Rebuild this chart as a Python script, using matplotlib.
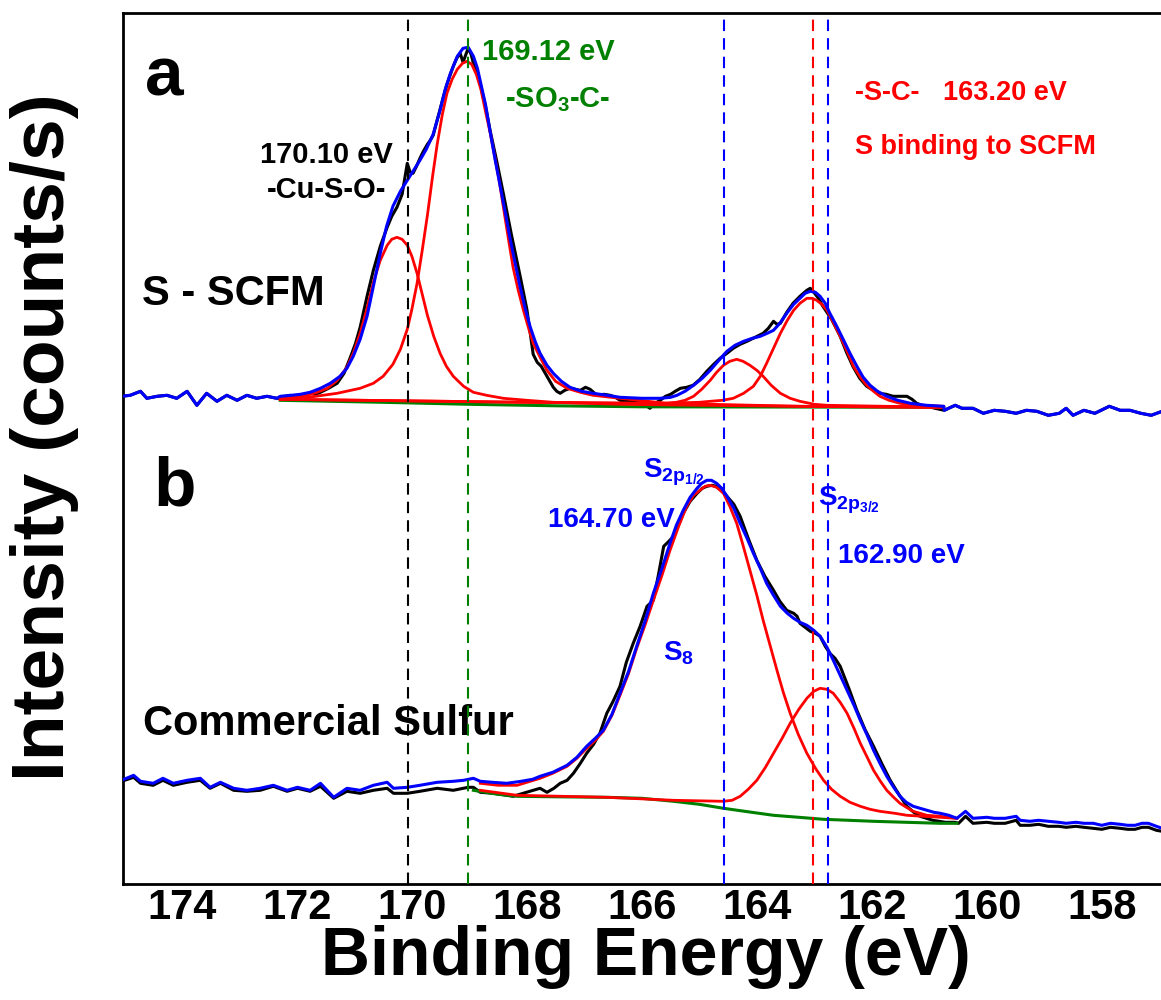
import matplotlib
matplotlib.use("Agg")
import matplotlib.pyplot as plt

plt.rcParams['font.family'] = ['Liberation Sans', 'DejaVu Sans']
plt.rcParams['font.weight'] = 'bold'
plt.rcParams['mathtext.fontset'] = 'custom'
plt.rcParams['mathtext.rm'] = 'Liberation Sans:bold'
plt.rcParams['mathtext.it'] = 'Liberation Sans:bold'
plt.rcParams['mathtext.bf'] = 'Liberation Sans:bold'
plt.rcParams['mathtext.default'] = 'rm'

# ---------------- data (binding energy in eV, intensity in arbitrary units) ----------------
# Panel a : S - SCFM
a_left_E = [175.05, 174.90, 174.72, 174.61, 174.43, 174.26, 174.09, 173.91, 173.74, 173.57,
            173.39, 173.22, 173.04, 172.87, 172.70, 172.52, 172.35]
a_left_I = [488, 489, 493, 486, 488, 489, 486, 493, 479, 491, 483, 489, 484, 489, 486, 488, 486]

a_right_E = [160.74, 160.55, 160.43, 160.24, 160.06, 159.87, 159.68, 159.49, 159.31, 159.13,
             158.93, 158.74, 158.62, 158.50, 158.31, 158.12, 157.87, 157.68, 157.51, 157.32,
             157.14, 156.95]
a_right_I = [474, 479, 476, 476, 471, 474, 473, 471, 474, 473, 469, 471, 476, 469, 474, 471,
             478, 474, 474, 471, 469, 473]

a_raw_E = [172.29, 172.20, 172.12, 172.03, 171.94, 171.85, 171.77, 171.68, 171.59, 171.45,
           171.30, 171.18, 171.07, 170.98, 170.90, 170.78, 170.67, 170.55, 170.43, 170.35,
           170.26, 170.17, 170.08, 170.03, 169.98, 169.92, 169.86, 169.80, 169.73, 169.68,
           169.63, 169.57, 169.51, 169.45, 169.39, 169.33, 169.28, 169.22, 169.16, 169.11,
           169.06, 169.02, 168.97, 168.93, 168.87, 168.81, 168.72, 168.64, 168.52, 168.41,
           168.27, 168.12, 168.00, 167.89, 167.82, 167.75, 167.65, 167.54, 167.48, 167.42,
           167.34, 167.25, 167.16, 167.07, 166.98, 166.90, 166.84, 166.78, 166.66, 166.55,
           166.46, 166.38, 166.20, 166.03, 165.95, 165.86, 165.77, 165.68, 165.59, 165.50,
           165.42, 165.33, 165.22, 165.11, 164.99, 164.87, 164.75, 164.64, 164.52, 164.41,
           164.29, 164.17, 164.03, 163.89, 163.80, 163.71, 163.65, 163.59, 163.48, 163.37,
           163.25, 163.13, 163.07, 163.02, 162.93, 162.85, 162.70, 162.55, 162.44, 162.33,
           162.21, 162.09, 161.97, 161.86, 161.75, 161.63, 161.51, 161.39, 161.30, 161.22,
           161.13, 161.04, 160.90]
a_raw_I = [486, 488, 489, 487, 488, 490, 491, 490, 492, 496,
           501, 511, 527, 541, 557, 588, 614, 638, 657, 668,
           677, 690, 721, 712, 711, 718, 726, 733, 740, 744,
           749, 762, 775, 788, 800, 810, 818, 826, 831, 822,
           830, 836, 830, 821, 812, 800, 778, 754, 722, 691,
           650, 609, 575, 530, 522, 518, 508, 497, 493, 491,
           494, 496, 495, 494, 497, 495, 492, 489, 490, 489,
           487, 484, 483, 482, 480, 476, 481, 484, 488, 490,
           493, 496, 497, 499, 505, 513, 520, 526, 531, 536,
           540, 543, 547, 551, 556, 563, 560, 561, 572, 581,
           588, 594, 596, 593, 586, 578, 565, 548, 532, 518,
           506, 498, 494, 491, 490, 488, 488, 488, 485, 481,
           479, 478, 476]

a_env_E = [172.29, 172.10, 171.94, 171.77, 171.59, 171.42, 171.25, 171.13, 171.02, 170.90,
           170.78, 170.67, 170.55, 170.44, 170.33, 170.20, 170.08, 169.97, 169.86, 169.75,
           169.63, 169.51, 169.42, 169.33, 169.21, 169.11, 169.02, 168.93, 168.86, 168.81,
           168.72, 168.64, 168.55, 168.46, 168.37, 168.29, 168.20, 168.12, 168.03, 167.94,
           167.85, 167.77, 167.65, 167.54, 167.40, 167.25, 167.05, 166.85, 166.60, 166.38,
           166.00, 165.68, 165.50, 165.39, 165.25, 165.10, 164.95, 164.81, 164.66, 164.52,
           164.38, 164.23, 164.08, 163.94, 163.82, 163.71, 163.60, 163.48, 163.36, 163.25,
           163.16, 163.07, 162.98, 162.90, 162.81, 162.73, 162.61, 162.49, 162.38, 162.26,
           162.15, 162.03, 161.90, 161.74, 161.55, 161.33, 161.05, 160.75]
a_env_I = [488, 489, 490, 492, 496, 501, 508, 516, 528, 545,
           568, 598, 631, 658, 678, 693, 704, 714, 724, 735,
           750, 774, 795, 811, 828, 836, 837, 828, 816, 803,
           780, 753, 724, 697, 670, 645, 620, 598, 576, 557,
           542, 531, 519, 511, 503, 497, 493, 491, 489, 487,
           486, 486, 487, 489, 493, 499, 506, 514, 524, 533,
           539, 543, 546, 548, 551, 554, 561, 571, 580, 586,
           591, 593, 592, 588, 581, 571, 558, 544, 531, 518,
           507, 499, 493, 488, 484, 481, 479, 478]

a_bg_E = [172.29, 170.50, 169.00, 167.50, 166.00, 160.75]
a_bg_I = [484, 482, 480, 478.5, 477.5, 477]

a_p1_E = [172.29, 172.00, 171.82, 171.65, 171.47, 171.30, 171.13, 171.02, 170.90, 170.78,
          170.67, 170.55, 170.43, 170.35, 170.26, 170.17, 170.08, 170.00, 169.91, 169.82,
          169.73, 169.62, 169.51, 169.40, 169.28, 169.10, 168.93, 168.70, 168.41, 168.00,
          167.54, 166.38, 164.99, 163.25, 160.75]
a_p1_I = [486, 487, 489, 492, 496, 504, 517, 531, 551, 576,
          602, 624, 639, 645, 647, 645, 639, 628, 611, 590,
          569, 548, 531, 518, 508, 498, 492, 489, 486, 484,
          482, 480, 479, 478, 477]

a_p2_E = [172.29, 171.80, 171.30, 170.90, 170.67, 170.50, 170.33, 170.20, 170.08, 170.00,
          169.91, 169.82, 169.73, 169.64, 169.56, 169.47, 169.39, 169.30, 169.21, 169.12,
          169.04, 168.96, 168.88, 168.80, 168.72, 168.64, 168.56, 168.48, 168.40, 168.32,
          168.24, 168.15, 168.06, 167.97, 167.89, 167.77, 167.65, 167.50, 167.30, 167.07,
          166.85, 166.38, 165.57, 163.25, 160.75]
a_p2_I = [485, 487, 491, 496, 501, 508, 520, 535, 555, 575,
          601, 634, 669, 708, 740, 770, 791, 805, 815, 821,
          823, 820, 810, 795, 773, 752, 728, 703, 674, 645,
          617, 594, 574, 556, 541, 527, 514, 503, 496, 492,
          489, 486, 481, 478, 477]

a_p3_E = [172.29, 168.00, 166.26, 165.57, 165.40, 165.25, 165.10, 164.96, 164.81, 164.70,
          164.58, 164.47, 164.35, 164.24, 164.12, 164.00, 163.89, 163.75, 163.59, 163.42,
          163.25, 163.00, 162.78, 160.75]
a_p3_I = [485, 482, 481, 481, 482, 484, 488, 495, 504, 512,
          519, 523, 525, 523, 519, 514, 508, 499, 491, 486,
          483, 480, 479, 477]

a_p4_E = [172.29, 168.00, 165.68, 165.00, 164.81, 164.60, 164.41, 164.23, 164.06, 163.94,
          163.83, 163.71, 163.59, 163.47, 163.36, 163.25, 163.13, 163.04, 162.96, 162.87,
          162.78, 162.67, 162.55, 162.43, 162.32, 162.20, 162.09, 161.97, 161.86, 161.70,
          161.51, 161.20, 160.75]
a_p4_I = [485, 482, 481, 482, 483, 484, 486, 491, 498, 508,
          521, 536, 551, 564, 574, 581, 586, 586, 584, 580,
          574, 562, 548, 533, 518, 507, 499, 493, 488, 484,
          481, 479, 478]

# Panel b : Commercial Sulfur
b_left_E = [175.05, 174.84, 174.72, 174.50, 174.33, 174.15, 173.91, 173.68, 173.51, 173.33,
            173.10, 172.87, 172.64, 172.41, 172.17, 171.99, 171.77, 171.59, 171.36, 171.13,
            170.90, 170.67, 170.43, 170.32, 170.08, 169.86, 169.56, 169.28, 169.10, 168.93]
b_left_I = [104, 109, 103, 101, 106, 101, 104, 106, 97, 102,
            96, 94, 96, 99, 94, 97, 94, 101, 87, 96,
            94, 99, 102, 96, 97, 99, 102, 103, 104, 106]

b_env_E = [168.81, 168.60, 168.35, 168.10, 167.90, 167.77, 167.55, 167.30, 167.13, 166.96,
           166.81, 166.67, 166.52, 166.38, 166.23, 166.09, 165.94, 165.80, 165.65, 165.51,
           165.40, 165.28, 165.16, 165.04, 164.96, 164.87, 164.79, 164.70, 164.61, 164.52,
           164.40, 164.29, 164.17, 164.06, 163.94, 163.83, 163.71, 163.59, 163.47, 163.36,
           163.25, 163.13, 163.01, 162.90, 162.78, 162.67, 162.55, 162.43, 162.31, 162.20,
           162.08, 161.97, 161.85, 161.74, 161.62, 161.51, 161.40, 161.28, 161.16, 161.04,
           160.92, 160.81, 160.66, 160.52]
b_env_I = [103, 102, 101, 103, 105, 108, 112, 119, 127, 138,
           146, 154, 170, 191, 213, 238, 264, 291, 316, 341,
           359, 374, 387, 396, 401, 404, 404, 401, 396, 388,
           376, 361, 346, 331, 316, 301, 289, 278, 271, 266,
           262, 259, 254, 248, 237, 224, 209, 194, 179, 164,
           149, 134, 120, 108, 97, 88, 82, 78, 76, 74,
           72, 71, 69, 66]

b_right_E = [160.37, 160.24, 160.00, 159.87, 159.68, 159.49, 159.42, 159.25, 159.10, 158.93,
             158.75, 158.62, 158.45, 158.31, 158.15, 158.00, 157.85, 157.68, 157.55, 157.42,
             157.30, 157.19, 157.05, 156.95]
b_right_I = [73, 66, 67, 66, 66, 68, 64, 63, 64, 63,
             62, 61, 62, 61, 61, 59, 61, 60, 59, 59,
             61, 61, 58, 56]

b_raw_E = [175.05, 174.84, 174.72, 174.50, 174.33, 174.15, 173.91, 173.68, 173.51, 173.33,
           173.10, 172.87, 172.64, 172.41, 172.17, 171.99, 171.77, 171.59, 171.36, 171.13,
           170.90, 170.67, 170.43, 170.32, 170.08, 169.86, 169.56, 169.28, 169.02, 168.93,
           168.81, 168.58, 168.24, 167.89, 167.77, 167.65, 167.53, 167.42, 167.30, 167.19,
           167.07, 166.96, 166.84, 166.73, 166.61, 166.50, 166.38, 166.27, 166.15, 166.03,
           165.91, 165.80, 165.71, 165.62, 165.53, 165.45, 165.36, 165.28, 165.16, 165.04,
           164.95, 164.87, 164.78, 164.70, 164.61, 164.52, 164.40, 164.29, 164.15, 164.00,
           163.86, 163.71, 163.60, 163.48, 163.36, 163.30, 163.25, 163.16, 163.07, 162.98,
           162.90, 162.81, 162.73, 162.64, 162.55, 162.40, 162.26, 162.12, 161.97, 161.82,
           161.68, 161.53, 161.39, 161.27, 161.16, 161.05, 160.94, 160.83, 160.72, 160.55,
           160.49, 160.37, 160.24, 160.00, 159.87, 159.68, 159.49, 159.42, 159.25, 159.10,
           158.93, 158.75, 158.62, 158.45, 158.31, 158.15, 158.00, 157.85, 157.68, 157.55,
           157.42, 157.30, 157.19, 157.05, 156.95]
b_raw_I = [103, 107, 101, 99, 104, 99, 102, 104, 96, 101,
           94, 93, 94, 98, 93, 96, 93, 98, 86, 93,
           91, 94, 96, 91, 91, 93, 96, 94, 97, 97,
           92, 91, 88, 94, 96, 92, 96, 101, 104, 111,
           121, 131, 140, 151, 171, 183, 198, 222, 241, 258,
           278, 284, 310, 338, 343, 348, 360, 371, 383, 391,
           396, 398, 399, 398, 394, 388, 380, 368, 346, 324,
           308, 294, 283, 274, 271, 268, 261, 257, 253, 251,
           248, 238, 231, 226, 218, 196, 174, 155, 138, 120,
           104, 90, 78, 72, 68, 66, 64, 63, 62, 62,
           61, 68, 61, 62, 61, 61, 64, 59, 59, 60,
           58, 58, 57, 58, 57, 56, 55, 57, 56, 55,
           55, 57, 57, 54, 53]

b_bg_E = [168.93, 168.50, 168.17, 167.50, 166.61, 166.00, 165.45, 165.00, 164.58, 164.15,
          163.71, 163.27, 162.84, 162.40, 161.97, 161.40, 160.81, 160.52]
b_bg_I = [94, 90, 88, 87.5, 87, 86, 83, 80, 76, 72.5,
          69, 67, 65, 64, 63, 62, 61, 61]

b_s8_E = [168.81, 168.50, 168.17, 167.77, 167.55, 167.30, 167.13, 166.96, 166.81, 166.67,
          166.52, 166.38, 166.23, 166.09, 165.94, 165.80, 165.65, 165.51, 165.36, 165.22,
          165.10, 164.99, 164.90, 164.81, 164.70, 164.58, 164.47, 164.35, 164.24, 164.12,
          164.00, 163.89, 163.77, 163.65, 163.54, 163.42, 163.28, 163.13, 162.98, 162.84,
          162.70, 162.55, 162.38, 162.20, 162.03, 161.86, 161.60, 161.39, 161.10, 160.81,
          160.52]
b_s8_I = [101, 99, 99, 106, 111, 118, 126, 136, 144, 153,
          169, 189, 211, 236, 260, 284, 309, 334, 358, 378,
          389, 394, 398, 399, 397, 391, 378, 361, 339, 314,
          289, 264, 239, 214, 192, 171, 150, 131, 116, 104,
          95, 88, 82, 78, 75, 73, 71, 69, 68, 67,
          66]

b_s32_E = [168.81, 168.17, 166.61, 165.45, 164.58, 164.43, 164.29, 164.15, 164.00, 163.85,
           163.71, 163.56, 163.42, 163.27, 163.13, 163.01, 162.90, 162.78, 162.67, 162.55,
           162.43, 162.31, 162.20, 162.08, 161.97, 161.85, 161.74, 161.62, 161.51, 161.40,
           161.28, 161.16, 161.04, 160.81, 160.52]
b_s32_I = [94, 89, 87, 84, 83, 84, 88, 95, 104, 117,
           131, 146, 161, 175, 186, 193, 196, 195, 191, 182,
           171, 156, 141, 127, 114, 103, 94, 87, 81, 77,
           73, 71, 69, 68, 66]

# reference lines (eV)
vline_E = [170.06, 169.02, 164.57, 163.02, 162.76]
vline_colors = ['black', '#008000', '#0000ff', '#ff0000', '#0000ff']

tick_values = [174, 172, 170, 168, 166, 164, 162, 160, 158]

# ---------------- figure ----------------
W, H = 1161, 1000
fig = plt.figure(figsize=(W / 100, H / 100), dpi=100)
ax = fig.add_axes([122.7 / W, 1 - 884.3 / H, (W - 122.7) / W, (884.3 - 12.7) / H])

BLACK, RED, BLUE, GREEN = '#000000', '#ff0000', '#0000ff', '#008000'
lw = 2.2

ax.plot(a_left_E + a_raw_E + a_right_E, a_left_I + a_raw_I + a_right_I, color=BLACK, lw=lw, zorder=2)
ax.plot(a_bg_E, a_bg_I, color=GREEN, lw=lw, zorder=3)
for e, i in [(a_p1_E, a_p1_I), (a_p2_E, a_p2_I), (a_p3_E, a_p3_I), (a_p4_E, a_p4_I)]:
    ax.plot(e, i, color=RED, lw=2.0, zorder=4)
ax.plot(a_left_E + a_env_E + a_right_E, a_left_I + a_env_I + a_right_I, color=BLUE, lw=lw, zorder=5)

ax.plot(b_raw_E, b_raw_I, color=BLACK, lw=lw, zorder=2)
ax.plot(b_bg_E, b_bg_I, color=GREEN, lw=lw, zorder=3)
for e, i in [(b_s8_E, b_s8_I), (b_s32_E, b_s32_I)]:
    ax.plot(e, i, color=RED, lw=2.0, zorder=4)
ax.plot(b_left_E + b_env_E + b_right_E, b_left_I + b_env_I + b_right_I, color=BLUE, lw=lw, zorder=5)

for xv, c in zip(vline_E, vline_colors):
    ax.axvline(xv, color=c, lw=1.5, ls=(0, (5.5, 3.4)), zorder=10)

ax.set_xlim(175.03, 156.97)
ax.set_ylim(0, 871.6)
ax.set_yticks([])
ax.set_xticks(tick_values)
ax.set_xticklabels([str(t) for t in tick_values])
ax.tick_params(axis='x', length=0, pad=3, labelsize=30)
for lab in ax.get_xticklabels():
    lab.set_fontweight('bold')
for s in ['left', 'top', 'bottom']:
    ax.spines[s].set_linewidth(2.0)
ax.spines['right'].set_visible(False)

# ---------------- annotations ----------------
def t(x, y, s, size, color='black', ha='left'):
    ax.text(x, y, s, fontsize=size, color=color, ha=ha, va='baseline', fontweight='bold', zorder=6)

t(174.64, 789, 'a', 50)
t(174.49, 379, 'b', 50)
t(174.69, 579, 'S - SCFM', 30)
t(174.67, 149, 'Commercial Sulfur', 30)
t(172.64, 721, '170.10 eV', 21)
t(171.49, 686, '-Cu-S-O-', 21, ha='center')
t(168.78, 824, '169.12 eV', 21, GREEN)
t(168.38, 777, '-SO$_3$-C-', 21, GREEN)
t(162.30, 784, '-S-C-', 19.5, RED)
t(160.77, 784, '163.20 eV', 19.5, RED)
t(162.30, 730, 'S binding to SCFM', 19.5, RED)
t(165.98, 407, 'S$_{2p_{1/2}}$', 20, BLUE)
t(167.63, 357, '164.70 eV', 20, BLUE)
t(162.93, 379, 'S$_{2p_{3/2}}$', 20, BLUE)
t(162.58, 321, '162.90 eV', 20, BLUE)
t(165.63, 224, 'S$_8$', 20, BLUE)

fig.text(646 / W, 1 - 975 / H, 'Binding Energy (eV)', fontsize=49, fontweight='bold',
         ha='center', va='baseline')
fig.text(45 / W, 1 - 437 / H, 'Intensity (counts/s)', fontsize=54, fontweight='bold',
         ha='center', va='center', rotation=90)

fig.savefig('out.png', dpi=100)
